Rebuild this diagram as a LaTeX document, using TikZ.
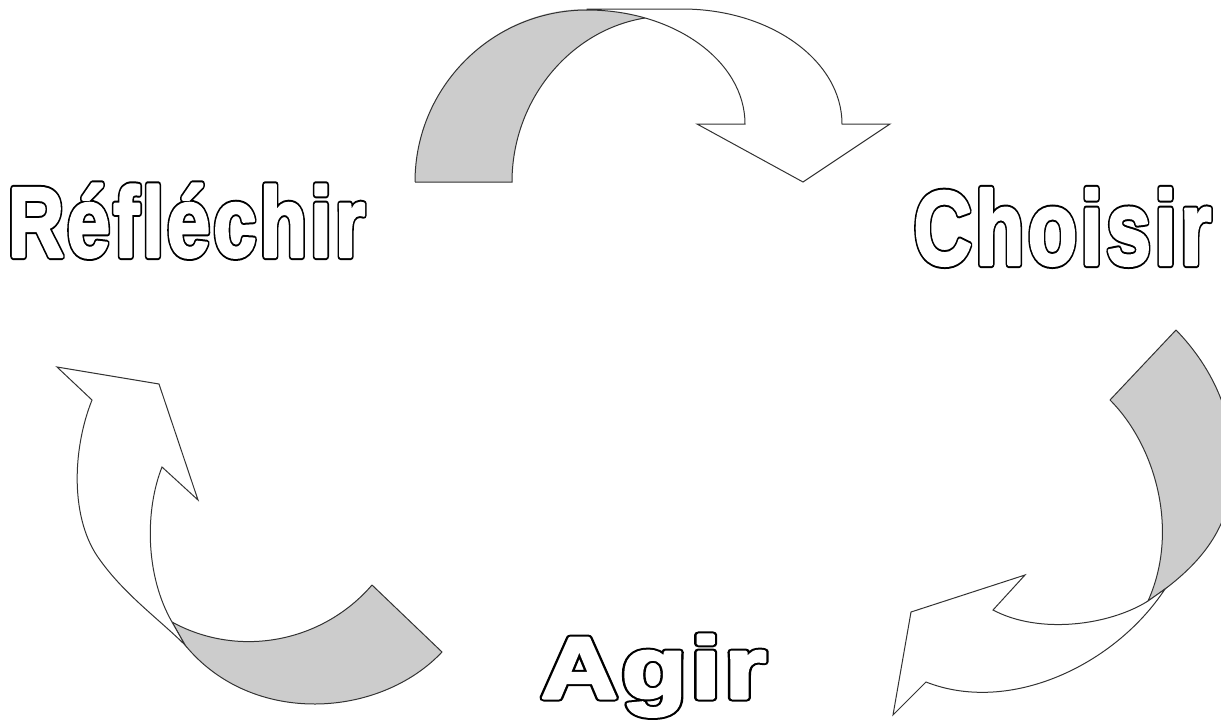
\documentclass[tikz,border=0pt]{standalone}
\usepackage{fontspec}
\setmainfont{Liberation Sans}
\definecolor{bandgrey}{RGB}{204,204,204}
\definecolor{linec}{RGB}{50,50,50}
\tikzset{
  band/.style={fill=bandgrey, draw=linec, line width=1pt, line join=round},
  bandfill/.style={fill=bandgrey},
  bandedge/.style={draw=linec, line width=1pt},
  arrowbody/.style={fill=white, draw=linec, line width=1pt, line join=miter},
  wordlabel/.style={inner sep=0pt, anchor=base, font=\bfseries},
}
\newcommand{\outlined}[3]{\scalebox{#1}[1]{\fontsize{#2}{#2}\selectfont\addfontfeature{LetterSpace=4}%
  \rlap{\special{pdf:literal direct 1 Tr 7 w 1 j 0 0 0 RG}#3\special{pdf:literal direct 0 Tr}}%
  \special{pdf:literal direct 2 Tr 3 w 1 j 1 1 1 RG 1 1 1 rg}#3\special{pdf:literal direct 0 Tr 1 w 0 g 0 G}}}
\begin{document}
\begin{tikzpicture}[x=1pt,y=-1pt]
\useasboundingbox (0,0) rectangle (1221,723);
% ---- top arrow (Réfléchir -> Choisir)
\fill[bandfill] (415,182) -- (512,182) .. controls (512,100) and (570,30) .. (645,18) -- (650,9) -- (587,9) .. controls (492,9) and (415,87) .. (415,182) -- cycle;
\draw[bandedge] (415,182) -- (512,182) .. controls (512,100) and (570,30) .. (645,18);
\draw[bandedge] (587,10) .. controls (492,10) and (415,87) .. (415,182);
\filldraw[arrowbody] (587,9) -- (682,9) .. controls (771,9) and (842,61) .. (842,124) -- (890,124) -- (803,182) -- (697,124) -- (745,124) .. controls (745,61) and (674,10) .. (587,10) -- cycle;
% ---- right arrow (Choisir -> Agir)
\filldraw[band] (1176,330) .. controls (1215,370) and (1235,420) .. (1233,470) .. controls (1231,520) and (1210,560) .. (1148,601) .. controls (1180,530) and (1155,445) .. (1110,400) -- cycle;
\filldraw[arrowbody] (1148,601) -- (1165,589) .. controls (1115,665) and (1010,715) .. (926,682) -- (893,715) -- (911,612) -- (1025,575) -- (993,610) .. controls (1040,635) and (1110,625) .. (1148,601) -- cycle;
% ---- left arrow (Agir -> Réfléchir)
\filldraw[band] (172,622) .. controls (238.6,658.6) and (322.4,642.6) .. (372,585) -- (442,652) .. controls (380,718) and (252,727) .. (185,645) -- cycle;
\filldraw[arrowbody] (57,367) -- (159,384) -- (198,500) -- (162,467) .. controls (145,510) and (145,575) .. (172,622) -- (185,645) .. controls (160,620) and (125,595) .. (100,560) .. controls (70,520) and (72,450) .. (92,400) -- cycle;
% ---- labels
\node[wordlabel] (reflechir) at (186.5,256.5) {\outlined{0.785}{99pt}{Réfléchir}};
\node[wordlabel] (choisir) at (1062.5,264.5) {\outlined{0.77}{105pt}{Choisir}};
\node[wordlabel] (agir) at (653.5,698) {\outlined{1.22}{87pt}{Agir}};
\end{tikzpicture}
\end{document}
